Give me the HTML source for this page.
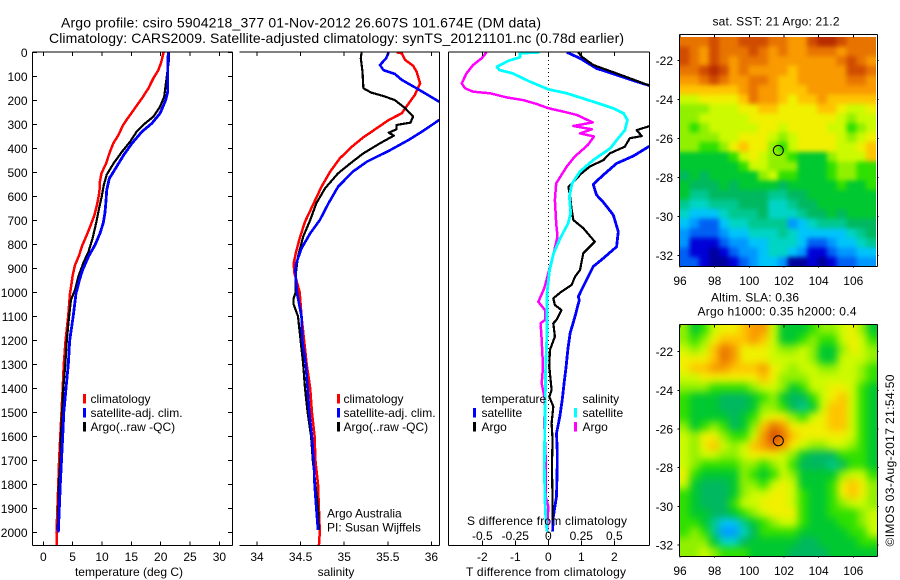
<!DOCTYPE html>
<html>
<head>
<meta charset="utf-8">
<title>Argo profile chart</title>
<style>
html,body{margin:0;padding:0;background:#fff;}
svg{display:block;}
text{font-family:"Liberation Sans",sans-serif;font-size:12px;fill:#000;}
.t14{font-size:14px;}
</style>
</head>
<body>
<svg id="chart" xmlns="http://www.w3.org/2000/svg" width="900" height="580" viewBox="0 0 900 580">
<defs>
<clipPath id="clip-sal"><rect x="239" y="52" width="200.5" height="493.5"/></clipPath>
<clipPath id="clip-diff"><rect x="448.5" y="52" width="201" height="493.5"/></clipPath>
<clipPath id="clip-sst-map"><rect x="679.5" y="37" width="196.5" height="229.5"/></clipPath>
<clipPath id="clip-sla-map"><rect x="679.5" y="325" width="197.5" height="231.5"/></clipPath>
<filter id="blur-sst-map" filterUnits="userSpaceOnUse" x="640" y="0" width="260" height="300" color-interpolation-filters="sRGB"><feGaussianBlur stdDeviation="2.4"/></filter>
<filter id="blur-sla-map" filterUnits="userSpaceOnUse" x="640" y="290" width="260" height="290" color-interpolation-filters="sRGB"><feGaussianBlur stdDeviation="4"/></filter>
</defs>
<rect x="0" y="0" width="900" height="580" fill="#fff"/>
<text class="t14" x="61" y="27.5" textLength="480">Argo profile: csiro 5904218_377 01-Nov-2012 26.607S 101.674E (DM data)</text>
<text class="t14" x="49" y="43" textLength="575">Climatology: CARS2009. Satellite-adjusted climatology: synTS_20121101.nc (0.78d earlier)</text>
<g id="layer"></g>
<text x="129" y="576" text-anchor="middle">temperature (deg C)</text>
<text x="336" y="576" text-anchor="middle">salinity</text>
<text x="467" y="525" textLength="160">S difference from climatology</text>
<text x="466" y="576" textLength="160">T difference from climatology</text>
<text x="327" y="517.5">Argo Australia</text>
<text x="327" y="531.5">PI: Susan Wijffels</text>
<text x="712.5" y="25.5" textLength="127">sat. SST: 21 Argo: 21.2</text>
<text x="711" y="301.5" textLength="88">Altim. SLA: 0.36</text>
<text x="697.5" y="315.5" textLength="159">Argo h1000: 0.35 h2000: 0.4</text>
<text transform="translate(894,546.5) rotate(-90)" textLength="172">©IMOS 03-Aug-2017 21:54:50</text>
</svg>
<script>
// ---- temperature panel ----
const depthTicks = [0,100,200,300,400,500,600,700,800,900,1000,1100,1200,1300,1400,1500,1600,1700,1800,1900,2000];
const tempTicks = [0,5,10,15,20,25,30];
const tempClimDepth = [0,40,74,108,150,192,233,271,303,345,380,422,463,505,540,582,630,679,721,762,804,846,887,929,964,1005,1100,1200,1300,1400,1500,1600,1700,1800,1900,2000,2056];
const tempClimValue = [20.5,20.1,19.6,18.75,17.9,16.8,15.6,14.5,13.6,12.8,11.9,11.25,10.7,9.9,9.65,9.55,9.2,8.7,8.05,7.4,6.65,6.1,5.4,5.0,4.8,4.55,4.25,3.8,3.5,3.3,3.1,2.9,2.7,2.55,2.4,2.25,2.3];
const tempSatDepth = [0,60,164,199,254,296,331,380,428,484,526,574,615,671,712,754,803,851,907,949,1005,1100,1200,1300,1400,1500,1600,1700,1800,1900,2000];
const tempSatValue = [21.3,21.2,21.2,20.85,19.9,18.5,16.8,15.1,13.7,12.3,11.25,10.8,10.7,10.5,10.2,9.66,8.8,7.7,6.7,6.15,5.57,5.1,4.5,4.26,3.86,3.5,3.3,3.1,2.9,2.73,2.56];
const tempArgoDepth = [0,32,185,226,268,303,331,372,414,462,510,553,601,650,712,775,831,879,935,990,1032,1100,1200,1300,1400,1500,1600,1700,1800,1900,1990];
const tempArgoValue = [21.4,21.4,20.6,19.9,18.75,17,15.9,14.8,13.4,12,10.8,10.3,9.95,9.5,9,8.4,7.7,6.8,5.97,5.4,4.7,4.4,4,3.75,3.4,3.2,3,2.9,2.65,2.55,2.45];
// ---- salinity panel ----
const salTicks = [34,34.5,35,35.5,36];
const salClimDepth = [0,4,32,56,81,129,178,213,254,282,317,354,393,442,497,560,629,706,775,830,879,921,1000,1100,1200,1300,1400,1500,1600,1700,1800,1900,2000,2056];
const salClimValue = [35.60,35.66,35.70,35.79,35.83,35.87,35.81,35.74,35.66,35.51,35.37,35.22,35.09,34.95,34.84,34.74,34.65,34.55,34.49,34.45,34.42,34.43,34.49,34.51,34.54,34.57,34.61,34.63,34.66,34.67,34.70,34.71,34.72,34.71];
const salSatDepth = [0,25,53,74,90,115,150,206,247,282,331,365,407,456,497,560,629,699,754,817,879,907,962,1004,1100,1200,1300,1400,1500,1600,1700,1800,1900,1990];
const salSatValue = [35.51,35.48,35.41,35.45,35.58,35.66,35.83,36.09,36.4,36.09,35.89,35.74,35.53,35.26,35.10,34.93,34.82,34.72,34.61,34.51,34.45,34.44,34.45,34.46,34.51,34.52,34.56,34.58,34.60,34.63,34.65,34.66,34.68,34.70];
const salArgoDepth = [0,25,81,150,168,182,199,233,268,293,303,321,335,347,379,421,463,504,567,629,699,768,851,935,1004,1025,1050,1100,1200,1300,1400,1500,1600,1700,1800,1900,1990];
const salArgoValue = [35.20,35.19,35.21,35.22,35.31,35.45,35.58,35.70,35.79,35.76,35.60,35.60,35.51,35.57,35.41,35.22,35.07,34.93,34.78,34.68,34.61,34.53,34.47,34.44,34.44,34.42,34.42,34.47,34.50,34.53,34.55,34.58,34.62,34.64,34.67,34.70,34.71];
// ---- difference panel ----
const tDiffTicks = [-2,-1,0,1,2];
const sDiffTicks = [-0.5,-0.25,0,0.25,0.5];
const tDiffSatDepth = [0,25,67,94,118,139,220,390,432,463,511,550,594,625,678,747,810,858,893,962,1018,1032,1101,1171,1240,1310,1379,1449,1518,1588,1657,1726,1851,1935,1997];
const tDiffSatValue = [0.56,0.96,1.46,2.07,2.58,3.08,3.8,3.08,2.58,2.07,1.67,1.36,1.46,1.67,1.97,2.12,2.07,1.67,1.36,1.11,0.91,0.94,0.81,0.66,0.59,0.54,0.48,0.42,0.35,0.25,0.27,0.27,0.25,0.15,0.13];
const tDiffArgoDepth = [0,18,53,88,139,220,307,324,349,358,393,421,449,476,504,539,560,601,657,699,733,789,837,907,935,969,997,1025,1053,1074,1115,1129,1185,1240,1310,1407,1435,1476,1546,1615,1726,1865,1949];
const tDiffArgoValue = [0.91,1.01,1.36,2.07,3.08,3.8,3.08,2.68,2.83,2.47,2.32,1.87,1.67,1.26,1.01,0.76,0.61,0.66,0.71,0.76,1.06,1.41,1.06,0.96,0.81,0.71,0.40,0.15,0.2,0.40,0.25,0.15,0.2,0.05,0.03,0.10,0.03,0.15,0.10,0.13,0.11,0.13,0.13];
const sDiffSatDepth = [0,4,21,35,60,74,88,122,154,171,206,233,254,282,324,365,400,449,497,546,601,671,713,775,838,907,1004,1074,1171,1310,1518,1726,1865,1935,1997];
const sDiffSatValue = [-0.068,-0.215,-0.215,-0.30,-0.39,-0.37,-0.27,-0.14,0,0.14,0.34,0.49,0.57,0.60,0.58,0.52,0.47,0.34,0.24,0.18,0.16,0.17,0.15,0.09,0.04,0.01,-0.01,-0.01,-0.01,-0.02,-0.025,-0.03,-0.025,-0.02,-0.01];
const sDiffArgoDepth = [0,25,53,88,129,150,164,171,188,199,215,233,247,261,292,307,321,338,351,386,435,476,546,615,713,768,838,921,983,1032,1039,1074,1115,1129,1199,1310,1379,1449,1546,1699,1851,1893,1990];
const sDiffArgoValue = [-0.467,-0.505,-0.57,-0.62,-0.656,-0.63,-0.57,-0.44,-0.316,-0.19,-0.09,0,0.114,0.215,0.336,0.19,0.33,0.24,0.346,0.30,0.20,0.14,0.06,0.05,0.06,0.07,0.04,0,-0.03,-0.07,-0.076,-0.025,-0.025,-0.058,-0.05,-0.04,-0.05,-0.025,-0.03,-0.02,-0.02,0,-0.01];
// ---- maps ----
const lonTicks = [96,98,100,102,104,106];
const latTicks = [-22,-24,-26,-28,-30,-32];
const floatLon = [101.674];
const floatLat = [-26.607];
const levelColors = ['#00009c','#0000d8','#0060f4','#0098ff','#00c4fa','#00d4c4','#00c890','#00b860','#00c830','#30e000','#90f000','#ccfa00','#f0f000','#ffc400','#f89a00','#e87400','#d04c00','#b82c00'];
const sstLevels = [
[15,15,15,16,15,15,16,16,16,15,15,14,14,16,17,17,16,15,15,15],
[16,15,14,16,15,15,15,16,15,14,15,14,14,15,15,15,14,15,15,15],
[16,15,14,16,15,14,15,15,15,14,14,14,14,14,14,14,15,16,15,14],
[15,15,16,17,16,14,15,14,14,14,14,13,14,14,14,14,14,16,16,15],
[14,14,15,16,15,14,14,15,15,14,13,13,14,14,14,14,14,15,15,14],
[13,13,13,13,13,13,14,15,14,14,13,13,13,14,14,14,14,14,14,14],
[11,11,12,12,12,12,13,15,14,14,13,12,13,13,14,13,13,13,13,13],
[10,10,10,11,11,11,12,12,13,13,12,12,12,12,13,13,12,11,11,12],
[10,10,11,11,11,11,11,12,12,12,12,12,12,12,12,12,11,10,11,11],
[10,9,10,11,11,11,11,11,12,12,11,12,12,12,12,11,11,9,10,11],
[10,10,10,10,11,11,12,12,12,11,10,11,12,12,12,12,11,10,11,12],
[10,10,9,9,10,12,13,12,12,10,9,11,12,12,12,12,11,11,12,13],
[8,8,8,8,8,9,11,12,11,10,10,9,8,8,8,10,11,11,11,13],
[8,8,8,8,8,8,9,11,11,10,10,10,8,8,8,9,10,10,9,9],
[7,8,7,8,8,8,8,8,10,11,9,9,8,8,8,9,10,10,9,9],
[8,7,7,7,8,7,8,8,8,8,7,8,8,8,8,8,9,8,8,9],
[8,6,6,7,7,7,7,7,7,6,6,7,7,8,8,8,8,8,8,8],
[6,5,5,6,6,6,7,7,7,5,5,6,7,7,8,8,8,8,8,8],
[5,4,4,4,5,6,6,6,7,5,5,5,6,7,7,8,7,8,8,8],
[4,3,2,2,4,5,5,6,6,6,6,3,4,5,6,6,6,7,7,7],
[3,2,2,2,3,4,4,5,5,5,6,5,4,4,4,4,4,5,6,7],
[3,1,1,1,2,3,3,4,4,5,5,5,4,2,2,3,4,4,5,6],
[2,1,1,0,1,2,3,3,4,5,5,4,3,1,1,2,3,3,4,4],
[2,2,1,0,0,1,2,3,4,4,3,0,0,1,0,1,2,2,3,3]
];
const slaLevels = [
[10,8,9,11,12,12,13,14,14,11,8,8,8,9,10,10,11,12,10,8],
[10,9,10,12,13,13,13,14,13,11,8,8,9,10,9,9,11,12,11,9],
[11,10,11,13,15,14,12,12,12,11,10,10,11,10,8,8,10,12,11,10],
[12,12,12,13,15,14,12,12,12,11,11,11,11,10,8,8,11,11,11,10],
[12,13,13,14,14,13,13,13,14,12,11,10,11,11,10,10,11,11,10,9],
[11,11,12,12,12,12,12,12,13,12,10,10,10,11,11,11,11,11,10,9],
[10,10,10,9,9,9,9,10,11,11,10,8,9,11,11,12,12,11,9,8],
[9,8,8,8,7,7,7,8,9,10,8,7,7,9,11,12,13,11,9,8],
[9,8,8,8,7,7,7,8,10,10,9,7,6,8,11,13,13,11,9,8],
[9,8,8,8,8,7,8,9,11,12,12,10,9,11,12,13,13,11,9,8],
[10,8,9,10,9,7,8,10,13,15,14,12,12,12,12,13,13,11,9,8],
[11,10,12,12,10,9,9,11,14,16,15,13,12,12,12,12,12,11,9,8],
[11,10,12,13,11,10,11,13,14,15,14,12,11,10,10,11,11,10,9,8],
[11,10,11,11,10,10,11,12,12,12,11,10,8,7,7,7,9,9,9,8],
[11,10,9,9,9,9,10,10,9,10,11,9,7,7,7,6,7,9,9,8],
[12,9,8,8,8,8,10,9,8,9,11,10,8,8,8,8,10,11,11,9],
[11,8,7,7,7,8,10,10,9,11,12,11,8,8,8,9,12,13,12,10],
[9,8,7,7,7,8,10,11,11,12,12,11,9,8,8,9,12,13,12,10],
[9,8,7,7,7,9,11,11,12,12,12,11,9,8,8,9,10,11,11,10],
[9,8,8,7,7,8,9,10,11,12,12,12,9,8,8,9,9,9,10,11],
[9,9,8,6,4,4,6,8,9,10,11,11,9,8,8,8,9,9,10,11],
[9,10,9,6,3,3,5,7,9,9,9,9,8,8,8,8,8,9,9,11],
[10,10,10,8,5,5,7,8,8,8,8,8,7,7,8,8,8,8,9,9],
[10,10,11,10,9,9,9,8,8,8,8,7,7,7,7,8,8,8,8,8]
];

const SVGNS = 'http://www.w3.org/2000/svg';
const layer = document.getElementById('layer');
function mk(tag, attrs, parent) {
  const el = document.createElementNS(SVGNS, tag);
  for (const k in attrs) el.setAttribute(k, attrs[k]);
  (parent || layer).appendChild(el);
  return el;
}
// axis functions
const yDepth = d => 52.3 + 0.24 * d;
const xTemp = t => 43.3 + 5.87 * t;
const xSal = s => 257 + 87.2 * (s - 34);
const xTDiff = t => 548.3 + 33 * t;
const xSDiff = s => 548.3 + 132 * s;

function segment(x1, y1, x2, y2, name) {
  const el = mk('line', {x1, y1, x2, y2, stroke: '#000', 'stroke-width': 1, 'shape-rendering': 'crispEdges'});
  
  
  return el;
}
function label(x, y, str, anchor, name) {
  const el = mk('text', {x, y, 'text-anchor': anchor});
  el.textContent = str;
  
  
  return el;
}
function series(depths, values, xFn, color, width, clip, name) {
  const pts = depths.map((d, i) => xFn(values[i]).toFixed(1) + ',' + yDepth(d).toFixed(1)).join(' ');
  const el = mk('polyline', {points: pts, fill: 'none', stroke: color, 'stroke-width': width, 'stroke-linejoin': 'round', 'shape-rendering': 'crispEdges'});
  if (clip) el.setAttribute('clip-path', 'url(#' + clip + ')');
  
  
  return el;
}
function legendBar(x, y, color, name) {
  const el = mk('rect', {x, y, width: 3, height: 9.5, fill: color, 'shape-rendering': 'crispEdges'});
  
  
}

const TOP = 52, BOT = 545.5;
series(tempClimDepth, tempClimValue, xTemp, '#ff0000', 2.5, null, 'temperature-climatology-line');
series(tempArgoDepth, tempArgoValue, xTemp, '#000000', 2.2, null, 'temperature-argo-line');
series(tempSatDepth, tempSatValue, xTemp, '#0000ff', 2.8, null, 'temperature-satellite-line');
series(salClimDepth, salClimValue, xSal, '#ff0000', 2.5, 'clip-sal', 'salinity-climatology-line');
series(salArgoDepth, salArgoValue, xSal, '#000000', 2.2, 'clip-sal', 'salinity-argo-line');
series(salSatDepth, salSatValue, xSal, '#0000ff', 2.6, 'clip-sal', 'salinity-satellite-line');

const zeroLine = mk('line', {x1: xTDiff(0), y1: TOP, x2: xTDiff(0), y2: BOT, stroke: '#000', 'stroke-width': 1, 'stroke-dasharray': '1 3', 'shape-rendering': 'crispEdges'});



series(tDiffSatDepth, tDiffSatValue, xTDiff, '#0000ff', 2.8, 'clip-diff', 't-difference-satellite-line');
series(tDiffArgoDepth, tDiffArgoValue, xTDiff, '#000000', 2.2, 'clip-diff', 't-difference-argo-line');
series(sDiffArgoDepth, sDiffArgoValue, xSDiff, '#ff00ff', 2.5, 'clip-diff', 's-difference-argo-line');
series(sDiffSatDepth, sDiffSatValue, xSDiff, '#00ffff', 2.8, 'clip-diff', 's-difference-satellite-line');

// temperature frame
segment(32.5, TOP, 232.5, TOP, 'temperature-top-spine');
segment(32.5, BOT, 232.5, BOT, 'temperature-bottom-spine');
segment(32.5, TOP, 32.5, BOT, 'temperature-left-spine');
segment(232.5, TOP, 232.5, BOT, 'temperature-right-spine');
depthTicks.forEach(d => {
  segment(32.5, yDepth(d), 37, yDepth(d), 'depth-tick-left');
  segment(228, yDepth(d), 232.5, yDepth(d), 'depth-tick-right');
  label(27.5, yDepth(d) + 4.5, String(d), 'end', 'depth-tick-label');
});
tempTicks.forEach(t => {
  segment(xTemp(t), TOP, xTemp(t), TOP + 4, 'temperature-tick-top');
  segment(xTemp(t), BOT, xTemp(t), BOT - 4, 'temperature-tick-bottom');
  label(xTemp(t), 561, String(t), 'middle', 'temperature-tick-label');
});
// salinity frame
segment(239.5, TOP, 439.5, TOP, 'salinity-top-spine');
segment(239.5, BOT, 439.5, BOT, 'salinity-bottom-spine');
segment(439.5, TOP, 439.5, BOT, 'salinity-right-spine');
salTicks.forEach(s => {
  segment(xSal(s), TOP, xSal(s), TOP + 4, 'salinity-tick-top');
  segment(xSal(s), BOT, xSal(s), BOT - 4, 'salinity-tick-bottom');
  label(xSal(s), 561, String(s), 'middle', 'salinity-tick-label');
});
// difference frame
segment(448.5, TOP, 649.5, TOP, 'difference-top-spine');
segment(448.5, BOT, 649.5, BOT, 'difference-bottom-spine');
segment(448.5, TOP, 448.5, BOT, 'difference-left-spine');
segment(649.5, TOP, 649.5, BOT, 'difference-right-spine');
tDiffTicks.forEach(t => {
  segment(xTDiff(t), TOP, xTDiff(t), TOP + 4, 't-difference-tick-top');
  segment(xTDiff(t), BOT, xTDiff(t), BOT - 5, 't-difference-tick-bottom');
  label(xTDiff(t), 561, String(t), 'middle', 't-difference-tick-label');
});
sDiffTicks.forEach(s => {
  label(xSDiff(s), 540, String(s), 'middle', 's-difference-tick-label');
});

// legends
const legendRowsY = [394, 408, 422];
const legendNames = ['climatology', 'satellite-adj. clim.', 'Argo(..raw -QC)'];
const legendColors = ['#ff0000', '#0000ff', '#000000'];
[[83, 90.5], [337, 343.5]].forEach(pos => {
  legendNames.forEach((n, i) => {
    legendBar(pos[0], legendRowsY[i], legendColors[i], 'legend-swatch');
    label(pos[1], legendRowsY[i] + 9, n, 'start', 'legend-entry');
  });
});
label(481.5, 403, 'temperature', 'start', 'legend-temperature-heading');
legendBar(473, 408, '#0000ff', 'legend-swatch-t-satellite');
legendBar(473, 422, '#000000', 'legend-swatch-t-argo');
label(481.5, 417, 'satellite', 'start', 'legend-t-satellite');
label(481.5, 431, 'Argo', 'start', 'legend-t-argo');
label(582.5, 403, 'salinity', 'start', 'legend-salinity-heading');
legendBar(574, 408, '#00ffff', 'legend-swatch-s-satellite');
legendBar(574, 422, '#ff00ff', 'legend-swatch-s-argo');
label(582.5, 417, 'satellite', 'start', 'legend-s-satellite');
label(582.5, 431, 'Argo', 'start', 'legend-s-argo');

// maps
function drawMap(grid, box, frame, lat22, latScale, labelY, name) {
  const rows = grid.length, cols = grid[0].length;
  const cw = box.w / cols, ch = box.h / rows;
  const xLon = lon => 680 + 17.33 * (lon - 96);
  const yLat = lat => lat22 + latScale * (-22 - lat);
  const clipper = mk('g', {'clip-path': 'url(#clip-' + name + ')'});
  
  
  const blurred = mk('g', {filter: 'url(#blur-' + name + ')'}, clipper);
  grid.forEach((row, r) => row.forEach((v, c) => {
    // edge cells run past the clip so the blur never fades to the white page
    const padL = c === 0 ? 14 : 0, padR = c === cols - 1 ? 14 : 0;
    const padT = r === 0 ? 14 : 0, padB = r === rows - 1 ? 14 : 0;
    const cell = mk('rect', {
      x: box.x + c * cw - padL, y: box.y + r * ch - padT,
      width: cw + 0.5 + padL + padR, height: ch + 0.5 + padT + padB,
      fill: levelColors[v], 'shape-rendering': 'crispEdges'
    }, blurred);
    
    
  }));
  segment(frame.l, frame.t, frame.r, frame.t, name + '-top-spine');
  segment(frame.l, frame.b, frame.r, frame.b, name + '-bottom-spine');
  segment(frame.l, frame.t, frame.l, frame.b, name + '-left-spine');
  segment(frame.r, frame.t, frame.r, frame.b, name + '-right-spine');
  lonTicks.forEach(lon => {
    segment(xLon(lon), frame.t, xLon(lon), frame.t + 3, name + '-lon-tick');
    segment(xLon(lon), frame.b, xLon(lon), frame.b + 1, name + '-lon-tick');
    label(xLon(lon), labelY, String(lon), 'middle', name + '-lon-label');
  });
  latTicks.forEach(lat => {
    segment(frame.l - 2, yLat(lat), frame.l, yLat(lat), name + '-lat-tick');
    segment(frame.r, yLat(lat), frame.r + 1, yLat(lat), name + '-lat-tick');
    label(673, yLat(lat) + 4.5, String(lat), 'end', name + '-lat-label');
  });
  floatLon.forEach((lon, i) => {
    const c = mk('circle', {cx: xLon(lon), cy: yLat(floatLat[i]), r: 5, fill: 'none', stroke: '#000', 'stroke-width': 1});
    
    
  });
}
drawMap(sstLevels, {x: 679.5, y: 37, w: 196.5, h: 229.5}, {l: 679.5, r: 877.5, t: 34.5, b: 266.5}, 60.7, 19.47, 285, 'sst-map');
drawMap(slaLevels, {x: 679.5, y: 325, w: 197.5, h: 231.5}, {l: 679.5, r: 877.5, t: 324.5, b: 556.5}, 351.7, 19.33, 575, 'sla-map');
</script>
</body>
</html>
